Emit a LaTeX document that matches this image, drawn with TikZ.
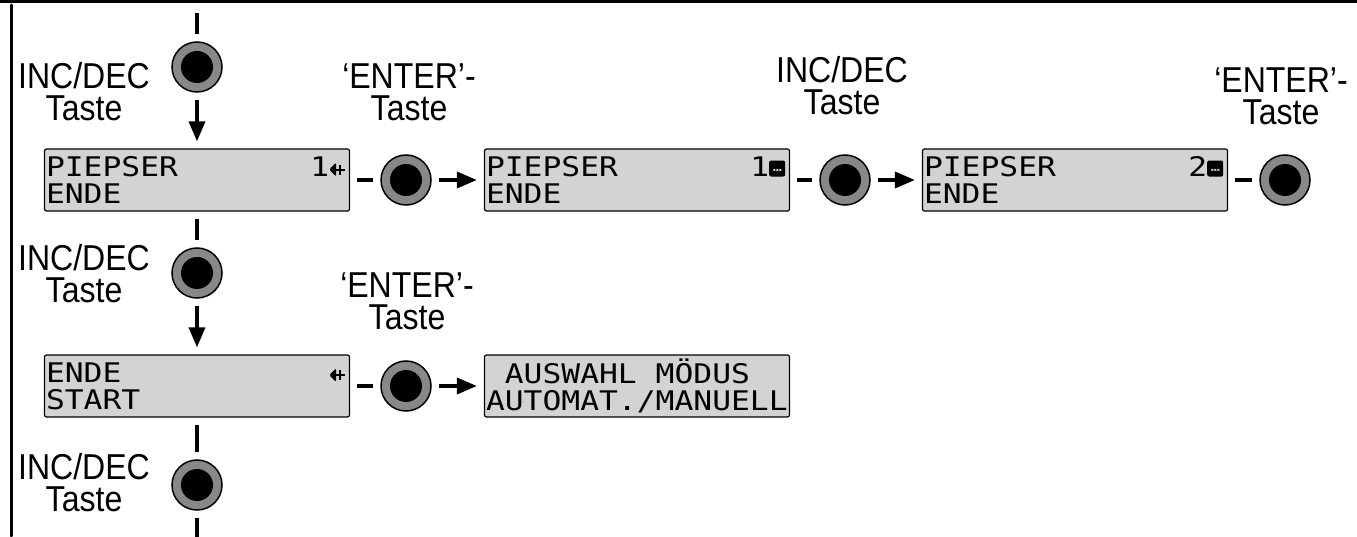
\documentclass[tikz,border=0pt]{standalone}
\usepackage{fontspec}
\usepackage{tkz-euclide}
\usetikzlibrary{arrows.meta}

\newfontfamily\tastefont[FakeStretch=0.89]{Liberation Sans}
\newfontfamily\lcdfont[FakeStretch=1.16]{DejaVu Sans Mono}
\definecolor{lcdgray}{RGB}{211,211,211}
\definecolor{ringgray}{RGB}{136,136,136}

\newcommand\lcdarrow{\makebox[18.8pt][l]{\tikz[x=1pt,y=1pt,baseline=0pt]{\fill (0,7) -- (7,14) -- (7,0) -- cycle; \draw[line width=2pt] (5,7) -- (16,7) (11,2) -- (11,12);}}}
\newcommand\lcdblock{\makebox[18.8pt][l]{\tikz[x=1pt,y=1pt,baseline=0pt]{\fill (0,0) rectangle (16,16); \foreach \d in {4.5,7.5,10.5} \fill[white] (\d,6) rectangle ++(1.5,1.5);}}}
\newcommand\lcdtext[3]{\makebox[302pt][l]{#1\hfill#2}\\#3}

\tikzset{
  lcd/.style={draw=black, line width=1.2pt, fill=lcdgray, rounded corners=2pt,
    minimum width=305pt, minimum height=62pt, inner sep=0pt, align=left,
    font=\lcdfont\fontsize{27}{27}\selectfont},
  knob/.style={circle, draw=black, line width=1.5pt, fill=ringgray, minimum size=50pt,
    inner sep=0pt, path picture={\fill[black] (path picture bounding box.center) circle (16pt);}},
  taste/.style={align=center, inner sep=0pt, font=\tastefont\fontsize{36}{32}\selectfont},
  stroke/.style={line width=3.5pt, shorten <=7pt, shorten >=7pt},
  flow/.style={stroke, -{Triangle[length=20pt,width=16pt]}}
}

\begin{document}
\begin{tikzpicture}[x=1pt, y=1pt]
    \useasboundingbox (0,0) rectangle (1357,536);
    \tkzDefPoints{0/534.5/F1, 1357/534.5/F2, 11.5/531/F3, 11.5/0/F4}
    \tkzDefPoints{197/530/T0, 197/-10/T1}
    \tkzDefPoints{197/469/K1, 406/356/K2, 845/356/K3, 1285/356/K4}
    \tkzDefPoints{197/263/K5, 406/150/K6, 197/51/K7}
    \tkzDefPoints{197/356/D1, 637/356/D2, 1075/356/D3, 197/150/D4, 637/150/D5}
    \tkzDefPoints{84/444/L1, 409/444/L2, 842/450/L3, 1281/440/L4}
    \tkzDefPoints{84/262/L5, 407/235/L6, 84/53/L7}

    % frame
    \tkzDrawSegments[line width=3pt](F1,F2 F3,F4)

    % displays
    \node[lcd] (lcdA) at (D1) {\lcdtext{PIEPSER}{1\lcdarrow}{ENDE}};
    \node[lcd] (lcdB) at (D2) {\lcdtext{PIEPSER}{1\lcdblock}{ENDE}};
    \node[lcd] (lcdC) at (D3) {\lcdtext{PIEPSER}{2\lcdblock}{ENDE}};
    \node[lcd] (lcdD) at (D4) {\lcdtext{ENDE}{\lcdarrow}{START}};
    \node[lcd] (lcdE) at (D5) {\lcdtext{~AUSWAHL MÖDUS}{}{AUTOMAT./MANUELL}};

    % keys
    \node[knob] (incA) at (K1) {};
    \node[knob] (entA) at (K2) {};
    \node[knob] (incB) at (K3) {};
    \node[knob] (entB) at (K4) {};
    \node[knob] (incC) at (K5) {};
    \node[knob] (entC) at (K6) {};
    \node[knob] (incD) at (K7) {};

    \node[taste] (lblIncA) at (L1) {INC/DEC\\Taste};
    \node[taste] (lblEntA) at (L2) {‘ENTER’-\\Taste};
    \node[taste] (lblIncB) at (L3) {INC/DEC\\Taste};
    \node[taste] (lblEntB) at (L4) {‘ENTER’-\\Taste};
    \node[taste] (lblIncC) at (L5) {INC/DEC\\Taste};
    \node[taste] (lblEntC) at (L6) {‘ENTER’-\\Taste};
    \node[taste] (lblIncD) at (L7) {INC/DEC\\Taste};

    % vertical chain
    \draw[stroke] (T0) -- (incA);
    \draw[flow] (incA) -- (lcdA);
    \draw[stroke] (lcdA) -- (incC);
    \draw[flow] (incC) -- (lcdD);
    \draw[stroke] (lcdD) -- (incD);
    \draw[stroke] (incD) -- (T1);

    % enter rows
    \draw[stroke] (lcdA) -- (entA);
    \draw[flow] (entA) -- (lcdB);
    \draw[stroke] (lcdB) -- (incB);
    \draw[flow] (incB) -- (lcdC);
    \draw[stroke] (lcdC) -- (entB);
    \draw[stroke] (lcdD) -- (entC);
    \draw[flow] (entC) -- (lcdE);
\end{tikzpicture}
\end{document}
